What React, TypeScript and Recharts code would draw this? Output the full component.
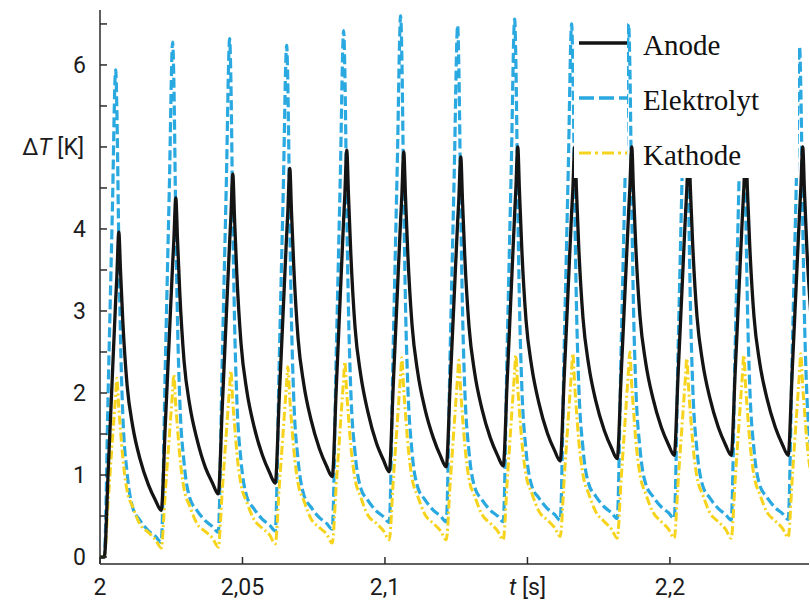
import React from 'react';
import { LineChart, Line, XAxis, YAxis, Legend } from 'recharts';

// Trough (start) time of every heating cycle, in s
const cycleStarts = [2.0015, 2.0215, 2.0415, 2.0615, 2.0815, 2.1015, 2.1215, 2.1415, 2.1615, 2.1815, 2.2015, 2.2215, 2.2415];
// Sampling instants inside one cycle, relative to its start, in s
const sampleOffsets = [0, 0.0014, 0.0028, 0.004, 0.0044, 0.0051, 0.0057, 0.0065, 0.008, 0.01, 0.0125, 0.0155, 0.018];

// ΔT [K] per cycle (rows) and sampling instant (columns)
const anodeCycles = [
  [0, 1.07, 2.18, 3.13, 3.41, 3.96, 3.49, 2.88, 2.1, 1.59, 1.2, 0.88, 0.69],
  [0.57, 1.6, 2.67, 3.58, 3.85, 4.38, 3.87, 3.22, 2.39, 1.85, 1.44, 1.09, 0.9],
  [0.77, 1.82, 2.92, 3.85, 4.12, 4.67, 4.14, 3.46, 2.6, 2.03, 1.6, 1.24, 1.03],
  [0.9, 1.94, 3.01, 3.93, 4.2, 4.74, 4.21, 3.54, 2.67, 2.11, 1.68, 1.32, 1.11],
  [0.98, 2.05, 3.17, 4.12, 4.4, 4.96, 4.41, 3.71, 2.8, 2.22, 1.77, 1.39, 1.18],
  [1.04, 2.09, 3.19, 4.12, 4.39, 4.94, 4.4, 3.71, 2.83, 2.25, 1.81, 1.45, 1.23],
  [1.1, 2.12, 3.18, 4.09, 4.35, 4.88, 4.35, 3.67, 2.81, 2.24, 1.81, 1.45, 1.24],
  [1.11, 2.16, 3.25, 4.18, 4.46, 5.0, 4.46, 3.77, 2.89, 2.32, 1.88, 1.51, 1.3],
  [1.17, 2.2, 3.28, 4.2, 4.46, 5.0, 4.47, 3.78, 2.91, 2.34, 1.9, 1.54, 1.33],
  [1.2, 2.23, 3.29, 4.2, 4.47, 5.0, 4.47, 3.8, 2.93, 2.37, 1.94, 1.58, 1.37],
  [1.24, 2.26, 3.31, 4.21, 4.47, 5.0, 4.47, 3.8, 2.93, 2.37, 1.94, 1.58, 1.37],
  [1.24, 2.26, 3.31, 4.21, 4.47, 5.0, 4.47, 3.8, 2.93, 2.37, 1.94, 1.58, 1.37],
  [1.24, 2.26, 3.31, 4.21, 4.47, 5.0, 4.47, 3.8, 2.93],
];

const elektrolytCycles = [
  [0, 2.08, 4.16, 5.94, 5.49, 3.81, 2.66, 1.74, 1.03, 0.6, 0.45, 0.32, 0.25],
  [0.18, 2.32, 4.45, 6.28, 5.83, 4.07, 2.87, 1.91, 1.15, 0.72, 0.57, 0.44, 0.37],
  [0.3, 2.41, 4.51, 6.32, 5.87, 4.1, 2.9, 1.94, 1.17, 0.74, 0.59, 0.46, 0.39],
  [0.32, 2.39, 4.46, 6.24, 5.79, 4.06, 2.88, 1.93, 1.19, 0.76, 0.61, 0.48, 0.41],
  [0.34, 2.47, 4.6, 6.42, 5.97, 4.2, 3.0, 2.04, 1.27, 0.84, 0.69, 0.56, 0.49],
  [0.42, 2.58, 4.75, 6.6, 6.15, 4.32, 3.08, 2.1, 1.28, 0.85, 0.7, 0.57, 0.5],
  [0.43, 2.55, 4.67, 6.48, 6.03, 4.24, 3.03, 2.06, 1.28, 0.85, 0.7, 0.57, 0.5],
  [0.43, 2.58, 4.72, 6.56, 6.11, 4.3, 3.08, 2.1, 1.3, 0.87, 0.72, 0.59, 0.52],
  [0.45, 2.57, 4.69, 6.5, 6.05, 4.27, 3.06, 2.1, 1.32, 0.89, 0.74, 0.61, 0.54],
  [0.47, 2.58, 4.69, 6.5, 6.05, 4.27, 3.06, 2.1, 1.32, 0.89, 0.74, 0.61, 0.54],
  [0.47, 2.58, 4.69, 6.5, 6.05, 4.26, 3.05, 2.08, 1.3, 0.87, 0.72, 0.59, 0.52],
  [0.45, 2.57, 4.69, 6.5, 6.05, 4.26, 3.06, 2.09, 1.31, 0.88, 0.73, 0.6, 0.53],
  [0.46, 2.48, 4.49, 6.22, 5.77, 4.09, 2.94, 2.02, 1.31],
];

const kathodeCycles = [
  [0, 0.7, 1.4, 1.98, 2.18, 1.81, 1.54, 1.21, 0.81, 0.61, 0.4, 0.3, 0.21],
  [0.11, 0.79, 1.46, 2.03, 2.22, 1.84, 1.57, 1.23, 0.83, 0.62, 0.41, 0.31, 0.23],
  [0.12, 0.81, 1.5, 2.08, 2.27, 1.89, 1.62, 1.28, 0.88, 0.67, 0.46, 0.35, 0.27],
  [0.16, 0.85, 1.54, 2.13, 2.32, 1.93, 1.65, 1.31, 0.9, 0.69, 0.47, 0.36, 0.28],
  [0.17, 0.88, 1.58, 2.18, 2.38, 1.99, 1.71, 1.36, 0.95, 0.73, 0.51, 0.41, 0.32],
  [0.21, 0.92, 1.63, 2.23, 2.43, 2.03, 1.74, 1.39, 0.96, 0.74, 0.52, 0.41, 0.32],
  [0.21, 0.91, 1.61, 2.2, 2.4, 2.01, 1.72, 1.37, 0.95, 0.74, 0.52, 0.41, 0.32],
  [0.21, 0.93, 1.65, 2.26, 2.46, 2.06, 1.77, 1.42, 1.0, 0.78, 0.56, 0.45, 0.36],
  [0.25, 0.96, 1.68, 2.28, 2.48, 2.08, 1.78, 1.42, 1.0, 0.77, 0.55, 0.43, 0.34],
  [0.23, 0.96, 1.68, 2.3, 2.5, 2.09, 1.8, 1.43, 1.0, 0.77, 0.55, 0.43, 0.34],
  [0.23, 0.93, 1.63, 2.22, 2.42, 2.03, 1.74, 1.39, 0.97, 0.76, 0.54, 0.43, 0.34],
  [0.23, 0.94, 1.66, 2.26, 2.46, 2.06, 1.77, 1.42, 0.99, 0.77, 0.55, 0.44, 0.35],
  [0.24, 0.95, 1.67, 2.27, 2.48, 2.08, 1.79, 1.43, 1.0],
];

const xTicks = [2, 2.05, 2.1, 2.15, 2.2];
const xTickLabels = ['2', '2,05', '2,1', 't [s]', '2,2'];
const xTopTicks = [2.05, 2.1, 2.15, 2.2];
const yTicks = [0, 0.5, 1, 1.5, 2, 2.5, 3, 3.5, 4, 4.5, 5, 5.5, 6, 6.5];
const yTickLabels = ['0', '', '1', '', '2', '', '3', '', '4', '', 'ΔT [K]', '', '6', ''];

const seriesNames = ['Anode', 'Elektrolyt', 'Kathode'];

const X_MIN = 2;
const X_MAX = 2.2488;
const Y_MIN = -0.085;
const Y_MAX = 6.67;

const AXIS = '#2b2b2b';
const TEXT = '#1c1c1c';
const BLACK = '#141414';
const BLUE = '#2aa8e0';
const YELLOW = '#f6d31c';

type Row = { t: number; anode: number; elektrolyt: number; kathode: number };
const rows: Row[] = [{ t: 2.0, anode: 0, elektrolyt: 0, kathode: 0 }];
cycleStarts.forEach((start, k) => {
  anodeCycles[k].forEach((v, i) => {
    rows.push({
      t: +(start + sampleOffsets[i]).toFixed(5),
      anode: v,
      elektrolyt: elektrolytCycles[k][i],
      kathode: kathodeCycles[k][i],
    });
  });
});

const tickFont = { fontFamily: 'Roboto', fontSize: 23, fill: TEXT };

const LeftTick = (props: any) => {
  const { x, y, index } = props;
  const label = yTickLabels[index];
  let content: React.ReactNode = null;
  if (label === 'ΔT [K]') {
    content = (
      <text x={x - 16} y={y} dy={8} textAnchor="end" {...tickFont}>
        Δ<tspan fontStyle="italic">T</tspan> [K]
      </text>
    );
  } else if (label) {
    content = (
      <text x={x - 14} y={y} dy={8} textAnchor="end" {...tickFont}>
        {label}
      </text>
    );
  }
  return (
    <g>
      <line x1={x} x2={x + 7} y1={y} y2={y} stroke={AXIS} strokeWidth={1.5} />
      {content}
    </g>
  );
};

const RightTick = (props: any) => {
  const { x, y } = props;
  return <line x1={x} x2={x - 7} y1={y} y2={y} stroke={AXIS} strokeWidth={1.5} />;
};

const BottomTick = (props: any) => {
  const { x, y, index } = props;
  const label = xTickLabels[index];
  return (
    <g>
      <line x1={x} x2={x} y1={y} y2={y - 7} stroke={AXIS} strokeWidth={1.5} />
      {label === 't [s]' ? (
        <text x={x} y={y + 31} textAnchor="middle" {...tickFont}>
          <tspan fontStyle="italic">t</tspan> [s]
        </text>
      ) : (
        <text x={x} y={y + 31} textAnchor="middle" {...tickFont}>
          {label}
        </text>
      )}
    </g>
  );
};

const TopTick = (props: any) => {
  const { x, y } = props;
  return <line x1={x} x2={x} y1={y} y2={y + 7} stroke={AXIS} strokeWidth={1.5} />;
};

const legendStyles = [
  { stroke: BLACK, dash: undefined as string | undefined, width: 3.5 },
  { stroke: BLUE, dash: '15 5', width: 3.5 },
  { stroke: YELLOW, dash: '12 4 3 4', width: 3 },
];

const LegendBox = () => (
  <svg width={224} height={166} style={{ display: 'block' }}>
    <rect x={0} y={0} width={53} height={166} fill="#fff" />
    <rect x={63} y={0} width={161} height={166} fill="#fff" />
    {seriesNames.map((name, i) => {
      const ly = 31 + i * 55;
      const s = legendStyles[i];
      return (
        <g key={name}>
          <line x1={5} x2={53} y1={ly} y2={ly} stroke={s.stroke} strokeWidth={s.width} strokeDasharray={s.dash} />
          <text x={69} y={ly + 12} fontFamily="'Liberation Serif', serif" fontSize={29} fill="#111">
            {name}
          </text>
        </g>
      );
    })}
  </svg>
);

export default function App() {
  return (
    <div style={{ position: 'absolute', left: 0, top: 0, width: 810, height: 602, background: '#fff' }}>
      <LineChart width={810} height={602} data={rows} margin={{ top: 10, right: 1, bottom: 0, left: 0 }}>
        <XAxis
          dataKey="t"
          type="number"
          domain={[X_MIN, X_MAX]}
          allowDataOverflow
          ticks={xTicks}
          interval={0}
          height={38}
          tickSize={0}
          tickMargin={0}
          tickLine={false}
          axisLine={{ stroke: AXIS, strokeWidth: 1.5 }}
          tick={(p: any) => <BottomTick {...p} />}
        />
        <XAxis
          xAxisId="top"
          orientation="top"
          type="number"
          domain={[X_MIN, X_MAX]}
          allowDataOverflow
          ticks={xTopTicks}
          interval={0}
          height={0}
          tickSize={0}
          tickMargin={0}
          tickLine={false}
          axisLine={{ stroke: AXIS, strokeWidth: 1.5 }}
          tick={(p: any) => <TopTick {...p} />}
        />
        <YAxis
          type="number"
          domain={[Y_MIN, Y_MAX]}
          allowDataOverflow
          ticks={yTicks}
          interval={0}
          width={100}
          tickSize={0}
          tickMargin={0}
          tickLine={false}
          axisLine={{ stroke: AXIS, strokeWidth: 1.5 }}
          tick={(p: any) => <LeftTick {...p} />}
        />
        <YAxis
          yAxisId="right"
          orientation="right"
          type="number"
          domain={[Y_MIN, Y_MAX]}
          allowDataOverflow
          ticks={yTicks}
          interval={0}
          width={0}
          tickSize={0}
          tickMargin={0}
          tickLine={false}
          axisLine={{ stroke: AXIS, strokeWidth: 1.5 }}
          tick={(p: any) => <RightTick {...p} />}
        />
        <Line type="monotoneX" dataKey="elektrolyt" name="Elektrolyt" stroke={BLUE} strokeWidth={3.2} strokeDasharray="10 4" dot={false} activeDot={false} isAnimationActive={false} />
        <Line type="monotoneX" dataKey="kathode" name="Kathode" stroke={YELLOW} strokeWidth={3} strokeDasharray="9 3 2 3" dot={false} activeDot={false} isAnimationActive={false} />
        <Line type="monotoneX" dataKey="anode" name="Anode" stroke={BLACK} strokeWidth={3.3} dot={false} activeDot={false} isAnimationActive={false} />
        <Legend
          layout="horizontal"
          verticalAlign="middle"
          align="center"
          content={() => <LegendBox />}
          wrapperStyle={{ position: 'absolute', left: 574, top: 12, width: 224, height: 166, margin: 0, padding: 0 }}
        />
      </LineChart>
    </div>
  );
}
